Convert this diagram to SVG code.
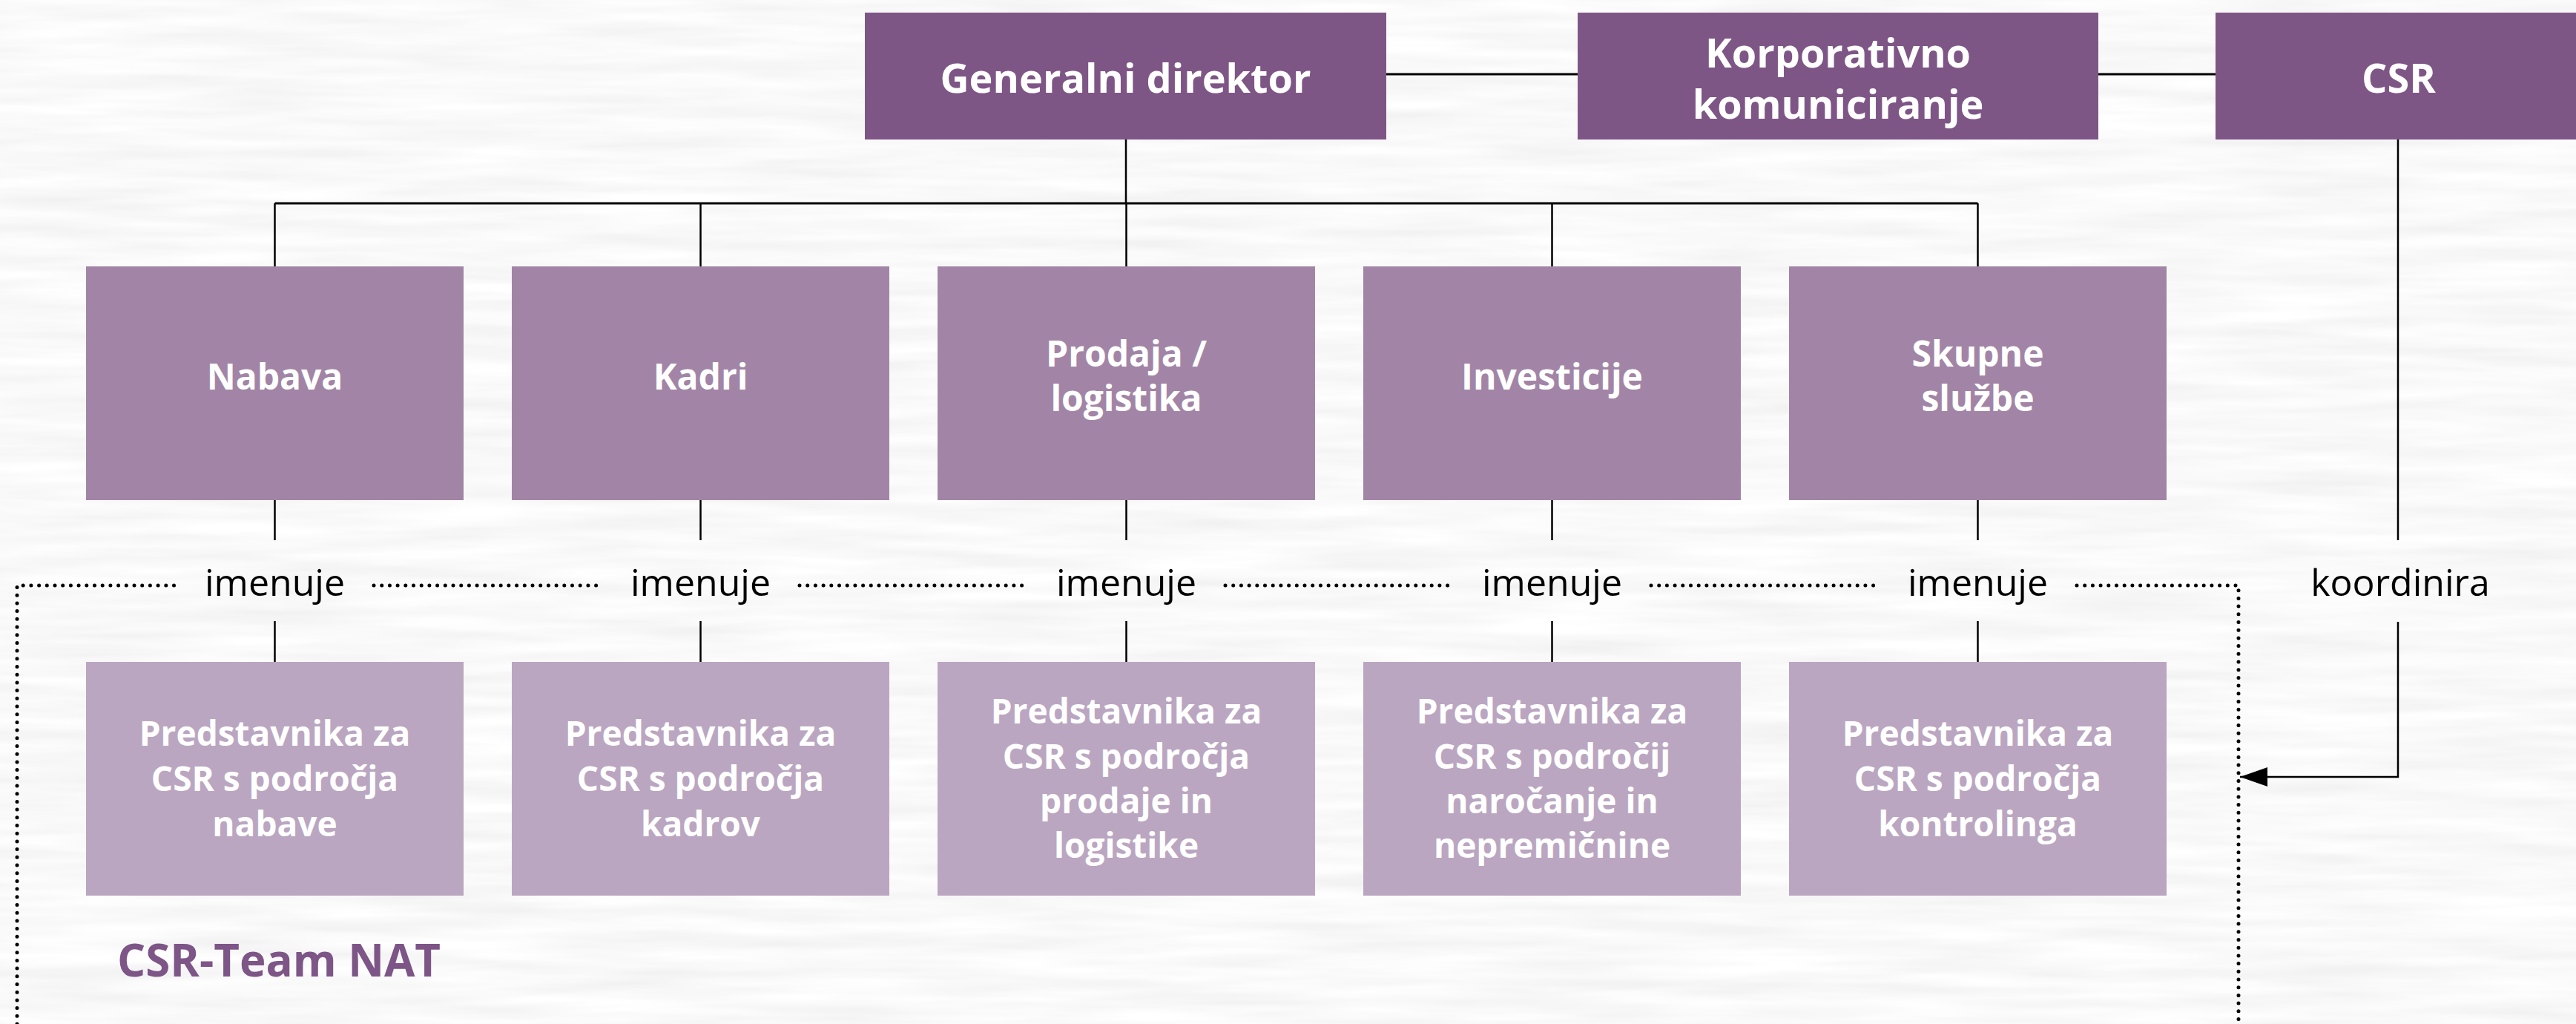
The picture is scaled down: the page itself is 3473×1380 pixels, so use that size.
<svg xmlns="http://www.w3.org/2000/svg" width="3473" height="1380" viewBox="0 0 3473 1380">
  <defs>
    <filter id="paper" x="0" y="0" width="100%" height="100%">
      <feTurbulence type="fractalNoise" baseFrequency="0.004 0.05" numOctaves="3" seed="7" result="n"/>
      <feColorMatrix in="n" type="matrix" values="0.18 0 0 0 0.86  0.18 0 0 0 0.86  0.18 0 0 0 0.86  0 0 0 0 1"/>
    </filter>
    <marker id="arrow" viewBox="0 0 37 26" refX="37" refY="13" markerWidth="37" markerHeight="26" markerUnits="userSpaceOnUse" orient="auto">
      <path d="M0,0 L37,13 L0,26 Z" fill="#000"/>
    </marker>
    <style>
      .top { fill: #7e5686; }
      .mid { fill: #a285a6; }
      .bot { fill: #bba6c1; }
      .t { font-family: "Open Sans", "Noto Sans", "Liberation Sans", sans-serif; font-weight: 700; fill: #ffffff; text-anchor: middle; }
      .t1 { font-size: 54px; }
      .t2 { font-size: 48px; }
      .t3 { font-size: 46px; }
      .lbl { font-family: "Open Sans", "Noto Sans", "Liberation Sans", sans-serif; font-size: 50px; fill: #000; text-anchor: middle; }
      .ln { stroke: #000; stroke-width: 2.5; fill: none; }
      .dot { stroke: #000; stroke-width: 5; stroke-linecap: round; stroke-dasharray: 0 10.7; fill: none; }
      .team { font-family: "Open Sans", "Noto Sans", "Liberation Sans", sans-serif; font-weight: 700; font-size: 60px; fill: #7d5587; }
    </style>
  </defs>

  <rect x="0" y="0" width="3473" height="1380" fill="#f2f2f2"/>
  <rect x="0" y="0" width="3473" height="1380" filter="url(#paper)"/>

  <g id="connectors">
    <line class="ln" x1="1869" y1="100" x2="2127" y2="100" style="stroke-width:3"/>
    <line class="ln" x1="2829" y1="100" x2="2987" y2="100" style="stroke-width:3"/>
    <line class="ln" x1="1518" y1="188" x2="1518" y2="274"/>
    <line class="ln" x1="370.5" y1="274" x2="2666.5" y2="274" style="stroke-width:3"/>
    <line class="ln" x1="370.5" y1="274" x2="370.5" y2="359"/>
    <line class="ln" x1="944.5" y1="274" x2="944.5" y2="359"/>
    <line class="ln" x1="1518.5" y1="274" x2="1518.5" y2="359"/>
    <line class="ln" x1="2092.5" y1="274" x2="2092.5" y2="359"/>
    <line class="ln" x1="2666.5" y1="274" x2="2666.5" y2="359"/>

    <line class="ln" x1="370.5" y1="674" x2="370.5" y2="728"/>
    <line class="ln" x1="370.5" y1="837" x2="370.5" y2="892"/>
    <line class="ln" x1="944.5" y1="674" x2="944.5" y2="728"/>
    <line class="ln" x1="944.5" y1="837" x2="944.5" y2="892"/>
    <line class="ln" x1="1518.5" y1="674" x2="1518.5" y2="728"/>
    <line class="ln" x1="1518.5" y1="837" x2="1518.5" y2="892"/>
    <line class="ln" x1="2092.5" y1="674" x2="2092.5" y2="728"/>
    <line class="ln" x1="2092.5" y1="837" x2="2092.5" y2="892"/>
    <line class="ln" x1="2666.5" y1="674" x2="2666.5" y2="728"/>
    <line class="ln" x1="2666.5" y1="837" x2="2666.5" y2="892"/>

    <line class="ln" x1="3233" y1="188" x2="3233" y2="728"/>
    <path class="ln" d="M3233,838 L3233,1047 L3020,1047" marker-end="url(#arrow)"/>

    <path class="dot" d="M23,1380 L23,789 L237,789"/>
    <line class="dot" x1="504" y1="789" x2="811" y2="789"/>
    <line class="dot" x1="1078" y1="789" x2="1385" y2="789"/>
    <line class="dot" x1="1652" y1="789" x2="1959" y2="789"/>
    <line class="dot" x1="2226" y1="789" x2="2533" y2="789"/>
    <path class="dot" d="M2800,789 L3018,789 L3018,1380"/>

    <text class="lbl" x="370.5" y="803">imenuje</text>
    <text class="lbl" x="944.5" y="803">imenuje</text>
    <text class="lbl" x="1518.5" y="803">imenuje</text>
    <text class="lbl" x="2092.5" y="803">imenuje</text>
    <text class="lbl" x="2666.5" y="803">imenuje</text>
    <text class="lbl" x="3236" y="803">koordinira</text>
  </g>

  <g id="gd">
    <rect class="top" x="1166" y="17" width="703" height="171"/>
    <text class="t t1" x="1517.5" y="125">Generalni direktor</text>
  </g>
  <g id="korp">
    <rect class="top" x="2127" y="17" width="702" height="171"/>
    <text class="t t1" x="2478" y="91">Korporativno</text>
    <text class="t t1" x="2478" y="160">komuniciranje</text>
  </g>
  <g id="csr">
    <rect class="top" x="2987" y="17" width="492" height="171"/>
    <text class="t t1" x="3234" y="125">CSR</text>
  </g>

  <g id="nabava">
    <rect class="mid" x="116" y="359" width="509" height="315"/>
    <text class="t t2" x="370.5" y="525">Nabava</text>
  </g>
  <g id="kadri">
    <rect class="mid" x="690" y="359" width="509" height="315"/>
    <text class="t t2" x="944.5" y="525">Kadri</text>
  </g>
  <g id="prodaja">
    <rect class="mid" x="1264" y="359" width="509" height="315"/>
    <text class="t t2" x="1518.5" y="494">Prodaja /</text>
    <text class="t t2" x="1518.5" y="554">logistika</text>
  </g>
  <g id="investicije">
    <rect class="mid" x="1838" y="359" width="509" height="315"/>
    <text class="t t2" x="2092.5" y="525">Investicije</text>
  </g>
  <g id="skupne">
    <rect class="mid" x="2412" y="359" width="509" height="315"/>
    <text class="t t2" x="2666.5" y="494">Skupne</text>
    <text class="t t2" x="2666.5" y="554">službe</text>
  </g>

  <g id="pred-nabava">
    <rect class="bot" x="116" y="892" width="509" height="315"/>
    <text class="t t3" x="370.5" y="1005">Predstavnika za</text>
    <text class="t t3" x="370.5" y="1066">CSR s področja</text>
    <text class="t t3" x="370.5" y="1127">nabave</text>
  </g>
  <g id="pred-kadri">
    <rect class="bot" x="690" y="892" width="509" height="315"/>
    <text class="t t3" x="944.5" y="1005">Predstavnika za</text>
    <text class="t t3" x="944.5" y="1066">CSR s področja</text>
    <text class="t t3" x="944.5" y="1127">kadrov</text>
  </g>
  <g id="pred-prodaja">
    <rect class="bot" x="1264" y="892" width="509" height="315"/>
    <text class="t t3" x="1518.5" y="975">Predstavnika za</text>
    <text class="t t3" x="1518.5" y="1036">CSR s področja</text>
    <text class="t t3" x="1518.5" y="1096">prodaje in</text>
    <text class="t t3" x="1518.5" y="1156">logistike</text>
  </g>
  <g id="pred-investicije">
    <rect class="bot" x="1838" y="892" width="509" height="315"/>
    <text class="t t3" x="2092.5" y="975">Predstavnika za</text>
    <text class="t t3" x="2092.5" y="1036">CSR s področij</text>
    <text class="t t3" x="2092.5" y="1096">naročanje in</text>
    <text class="t t3" x="2092.5" y="1156">nepremičnine</text>
  </g>
  <g id="pred-skupne">
    <rect class="bot" x="2412" y="892" width="509" height="315"/>
    <text class="t t3" x="2666.5" y="1005">Predstavnika za</text>
    <text class="t t3" x="2666.5" y="1066">CSR s področja</text>
    <text class="t t3" x="2666.5" y="1127">kontrolinga</text>
  </g>

  <g id="team">
    <text class="team" x="158" y="1316">CSR-Team NAT</text>
  </g>
</svg>
